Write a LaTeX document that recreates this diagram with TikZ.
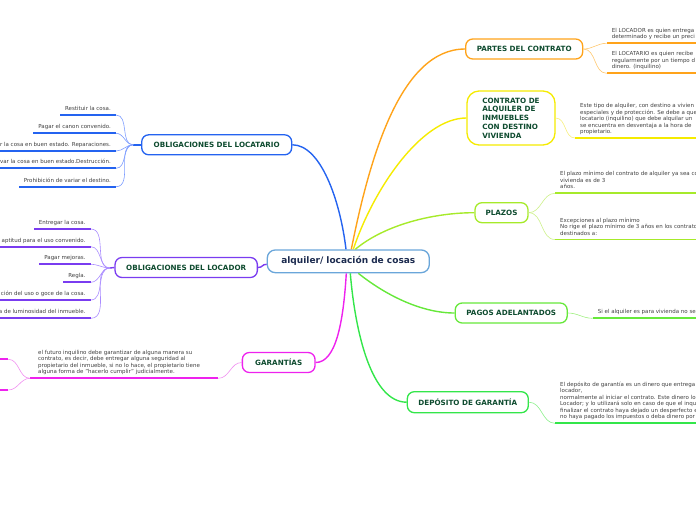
\documentclass[tikz,border=0pt]{standalone}
\usepackage{fontspec}
\setmainfont{DejaVu Sans}
\usetikzlibrary{calc}
\definecolor{orangeC}{HTML}{FFA31A}
\definecolor{orangeL}{HTML}{FFC870}
\definecolor{yellowC}{HTML}{F5EB00}
\definecolor{yellowL}{HTML}{F7EF80}
\definecolor{ygC}{HTML}{A6EA2A}
\definecolor{ygL}{HTML}{CDF08A}
\definecolor{pagC}{HTML}{66E83A}
\definecolor{pagL}{HTML}{A0F080}
\definecolor{depC}{HTML}{33E64A}
\definecolor{depL}{HTML}{8CF08C}
\definecolor{blueC}{HTML}{2463F0}
\definecolor{blueL}{HTML}{7C9CFF}
\definecolor{purC}{HTML}{7A3CF0}
\definecolor{purL}{HTML}{AA8CFF}
\definecolor{magC}{HTML}{EE22EE}
\definecolor{magL}{HTML}{F090F0}
\definecolor{ctrB}{HTML}{6AA6DA}
\definecolor{dkgreen}{HTML}{0E4B2F}
\definecolor{navy}{HTML}{1C2B4F}
\definecolor{txtgray}{HTML}{404040}
\newcommand\leaflines[1]{\begin{tabular}[b]{@{}l@{}}#1\end{tabular}}
\tikzset{
  ctrbox/.style={draw=ctrB, line width=1.3pt, rounded corners=8pt, fill=white,
    minimum width=162pt, minimum height=22.7pt, inner sep=0pt,
    font=\bfseries\fontsize{9}{10}\selectfont, text=navy},
  topic/.style={draw, rounded corners=7pt, fill=white, line width=1.3pt,
    font=\bfseries\fontsize{7.2}{8.7}\selectfont, text=dkgreen, inner sep=0pt,
    minimum height=20pt},
  leaf/.style={font=\fontsize{5.5}{6.5}\selectfont, text=txtgray, inner xsep=5pt, inner ysep=0pt},
  ul/.style={line width=1.8pt},
  br/.style={line width=1.4pt},
  sub/.style={line width=0.6pt},
}
\begin{document}
\begin{tikzpicture}[x=1pt,y=-1pt]
\useasboundingbox (0,0) rectangle (696,520);
\clip (0,0) rectangle (696,520);
\coordinate (Ledge) at (-6,0);
\coordinate (Redge) at (702,0);

% central node and topics
\node[ctrbox] (ctr) at (348.3,261.3) {alquiler/ locación de cosas};
\node[topic, draw=orangeC, minimum width=117pt] (partes) at (524.2,49) {PARTES DEL CONTRATO};
\node[topic, draw=yellowC, minimum width=88pt, minimum height=54pt, rounded corners=12pt, align=left] (contrato) at (511,118) {CONTRATO DE\\ALQUILER DE\\INMUEBLES\\CON DESTINO\\VIVIENDA};
\node[topic, draw=ygC, minimum width=53pt] (plazos) at (501.5,212.7) {PLAZOS};
\node[topic, draw=pagC, minimum width=112pt] (pagos) at (511.2,313) {PAGOS ADELANTADOS};
\node[topic, draw=depC, minimum width=121pt, minimum height=21pt] (deposito) at (467.8,402.2) {DEPÓSITO DE GARANTÍA};
\node[topic, draw=blueC, minimum width=150pt] (locatario) at (216.7,144.8) {OBLIGACIONES DEL LOCATARIO};
\node[topic, draw=purC, minimum width=142.3pt] (locador) at (186.2,267.5) {OBLIGACIONES DEL LOCADOR};
\node[topic, draw=magC, minimum width=72.7pt] (garantias) at (278.7,362.5) {GARANTÍAS};

% main branches
\draw[br, draw=blueC] ([xshift=-2.3pt]ctr.north) .. controls +(-6,-50) and +(28,0) .. (locatario.east);
\draw[br, draw=orangeC] ([xshift=3pt]ctr.north) .. controls +(18,-90) and +(-65,0) .. (partes.west);
\draw[br, draw=yellowC] ([xshift=5pt]ctr.north) .. controls +(20,-60) and +(-45,0) .. (contrato.west);
\draw[br, draw=ygC] ([xshift=7pt]ctr.north) .. controls +(30,-25) and +(-40,0) .. (plazos.west);
\draw[br, draw=pagC] ([xshift=10pt]ctr.south) .. controls +(25,20) and +(-35,0) .. (pagos.west);
\draw[br, draw=depC] ([xshift=2pt]ctr.south) .. controls +(5,60) and +(-35,0) .. (deposito.west);
\draw[br, draw=magC] ([xshift=-2pt]ctr.south) .. controls +(-3,50) and +(20,0) .. (garantias.east);
\draw[br, draw=purC] ([yshift=-3pt]ctr.west) .. controls +(-5,0) and +(5,0) .. (locador.east);

% ---- OBLIGACIONES DEL LOCATARIO leaves
\coordinate (jB) at (133.3,144.8);
\draw[br, draw=blueC] (locatario.west) -- (jB);
\coordinate (bu1) at (116,115);
\coordinate (bu2) at (116,133.3);
\coordinate (bu3) at (116,151);
\coordinate (bu4) at (116,168.3);
\coordinate (bu5) at (116,186.7);
\foreach \i in {1,...,5} {\draw[sub, draw=blueL] (jB) to[out=180,in=0] (bu\i);}
\node[leaf, anchor=base east] (b1) at ([yshift=4.5pt]bu1) {Restituir la cosa.};
\node[leaf, anchor=base east] (b2) at ([yshift=4.5pt]bu2) {Pagar el canon convenido.};
\node[leaf, anchor=base east] (b3) at ([yshift=4.5pt]bu3) {r la cosa en buen estado. Reparaciones.};
\node[leaf, anchor=base east] (b4) at ([yshift=4.5pt]bu4) {var la cosa en buen estado.Destrucción.};
\node[leaf, anchor=base east] (b5) at ([yshift=4.5pt]bu5) {Prohibición de variar el destino.};
\draw[ul, draw=blueC] (bu1) -- (bu1 -| b1.west);
\draw[ul, draw=blueC] (bu2) -- (bu2 -| b2.west);
\draw[ul, draw=blueC] (bu3) -- (bu3 -| Ledge);
\draw[ul, draw=blueC] (bu4) -- (bu4 -| Ledge);
\draw[ul, draw=blueC] (bu5) -- (bu5 -| b5.west);

% ---- OBLIGACIONES DEL LOCADOR leaves
\coordinate (jP) at (110,268);
\draw[br, draw=purC] (locador.west) -- (jP);
\coordinate (pu1) at (90.7,229);
\coordinate (pu2) at (90.7,246.7);
\coordinate (pu3) at (90.7,264.3);
\coordinate (pu4) at (90.7,282.3);
\coordinate (pu5) at (90.7,300);
\coordinate (pu6) at (90.7,318.3);
\foreach \i in {1,...,6} {\draw[sub, draw=purL] (jP) to[out=180,in=0] (pu\i);}
\node[leaf, anchor=base east] (p1) at ([yshift=4.5pt]pu1) {Entregar la cosa.};
\node[leaf, anchor=base east] (p2) at ([yshift=4.5pt]pu2) {aptitud para el uso convenido.};
\node[leaf, anchor=base east] (p3) at ([yshift=4.5pt]pu3) {Pagar mejoras.};
\node[leaf, anchor=base east] (p4) at ([yshift=4.5pt]pu4) {Regla.};
\node[leaf, anchor=base east] (p5) at ([yshift=4.5pt]pu5) {ción del uso o goce de la cosa.};
\node[leaf, anchor=base east] (p6) at ([yshift=4.5pt]pu6) {a de luminosidad del inmueble.};
\draw[ul, draw=purC] (pu1) -- (pu1 -| p1.west);
\draw[ul, draw=purC] (pu2) -- (pu2 -| Ledge);
\draw[ul, draw=purC] (pu3) -- (pu3 -| p3.west);
\draw[ul, draw=purC] (pu4) -- (pu4 -| p4.west);
\draw[ul, draw=purC] (pu5) -- (pu5 -| Ledge);
\draw[ul, draw=purC] (pu6) -- (pu6 -| Ledge);

% ---- GARANTIAS leaves
\coordinate (gu1) at (218.3,378.3);
\coordinate (gu0) at (30,378.3);
\draw[sub, draw=magL] (garantias.west) to[out=180,in=0] (gu1);
\draw[ul, draw=magC] (gu0) -- (gu1);
\node[leaf, anchor=base west] (g1) at ([xshift=3pt,yshift=4.5pt]gu0) {\leaflines{el futuro inquilino debe garantizar de alguna manera su\\contrato, es decir, debe entregar alguna seguridad al\\propietario del inmueble, si no lo hace, el propietario tiene\\alguna forma de "hacerlo cumplir" judicialmente.}};
\coordinate (gl1) at (8.3,359.3);
\coordinate (gl2) at (8.3,390);
\draw[sub, draw=magL] (gu0) to[out=180,in=0] (gl1);
\draw[sub, draw=magL] (gu0) to[out=180,in=0] (gl2);
\draw[ul, draw=magC] (gl1) -- (gl1 -| Ledge);
\draw[ul, draw=magC] (gl2) -- (gl2 -| Ledge);

% ---- PARTES DEL CONTRATO leaves
\coordinate (o1u) at (606.7,43.3);
\coordinate (o2u) at (606.7,73.3);
\draw[sub, draw=orangeL] (partes.east) to[out=0,in=180] (o1u);
\draw[sub, draw=orangeL] (partes.east) to[out=0,in=180] (o2u);
\node[leaf, anchor=base west] (o1) at ([yshift=4.5pt]o1u) {\leaflines{El LOCADOR es quien entrega\\determinado y recibe un preci}};
\node[leaf, anchor=base west] (o2) at ([yshift=4.5pt]o2u) {\leaflines{El LOCATARIO es quien recibe\\regularmente por un tiempo d\\dinero. (inquilino)}};
\draw[ul, draw=orangeC] (o1u) -- (o1u -| Redge);
\draw[ul, draw=orangeC] (o2u) -- (o2u -| Redge);

% ---- CONTRATO leaf
\coordinate (yu) at (575,138);
\draw[sub, draw=yellowL] (contrato.east) to[out=0,in=180] (yu);
\node[leaf, anchor=base west] (y1) at ([yshift=4.5pt]yu) {\leaflines{Este tipo de alquiler, con destino a vivien\\especiales y de protección. Se debe a que\\locatario (inquilino) que debe alquilar un\\se encuentra en desventaja a la hora de\\propietario.}};
\draw[ul, draw=yellowC] (yu) -- (yu -| Redge);

% ---- PLAZOS leaves
\coordinate (l1u) at (555,193.3);
\coordinate (l2u) at (555,239.5);
\draw[sub, draw=ygL] (plazos.east) to[out=0,in=180] (l1u);
\draw[sub, draw=ygL] (plazos.east) to[out=0,in=180] (l2u);
\node[leaf, anchor=base west] (l1) at ([yshift=4.5pt]l1u) {\leaflines{El plazo mínimo del contrato de alquiler ya sea co\\vivienda es de 3\\años.}};
\node[leaf, anchor=base west] (l2) at ([yshift=4.5pt]l2u) {\leaflines{Excepciones al plazo mínimo\\No rige el plazo mínimo de 3 años en los contrato\\destinados a:}};
\draw[ul, draw=ygC] (l1u) -- (l1u -| Redge);
\draw[ul, draw=ygC] (l2u) -- (l2u -| Redge);

% ---- PAGOS leaf
\coordinate (au) at (592.7,318.3);
\draw[sub, draw=pagL] (pagos.east) to[out=0,in=180] (au);
\node[leaf, anchor=base west] (a1) at ([yshift=4.5pt]au) {Si el alquiler es para vivienda no se};
\draw[ul, draw=pagC] (au) -- (au -| Redge);

% ---- DEPOSITO leaf
\coordinate (du) at (555,423.3);
\draw[sub, draw=depL] (deposito.east) to[out=0,in=180] (du);
\node[leaf, anchor=base west] (d1) at ([yshift=4.5pt]du) {\leaflines{El depósito de garantía es un dinero que entrega\\locador,\\normalmente al iniciar el contrato. Este dinero lo\\Locador; y lo utilizará solo en caso de que el inqui\\finalizar el contrato haya dejado un desperfecto e\\no haya pagado los impuestos o deba dinero por}};
\draw[ul, draw=depC] (du) -- (du -| Redge);
\end{tikzpicture}
\end{document}
